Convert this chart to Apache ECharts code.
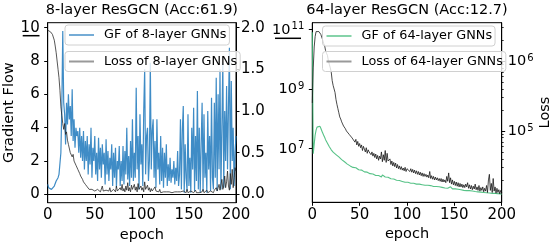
<!DOCTYPE html>
<html><head><meta charset="utf-8">
<script src="https://cdn.jsdelivr.net/npm/echarts@6/dist/echarts.min.js"></script>
<style>html,body{margin:0;padding:0;background:#fff}#c{width:557px;height:246px}</style>
</head><body><div id="c"></div>
<script>
// ---- data (epoch index = array index, 0..200) ----
const xTicks = [0, 50, 100, 150, 200];
const gfTicks8 = [0, 2, 4, 6, 8, 10];
const lossTicks8 = [0, 0.5, 1.0, 1.5, 2.0];
const gfExpTicks64 = [7, 9, 11];      // 10^7, 10^9, 10^11
const lossExpTicks64 = [5, 6];        // 10^5, 10^6

const gf8 = [
0.6,0.4,0.35,0.3,0.3,0.35,0.4,0.5,0.6,0.8,
0.9,1.0,1.2,1.3,2.5,5.2,9.8,5.5,4.8,3.0,
5.5,4.2,6.0,4.5,5.3,3.5,6.3,3.2,4.5,2.8,
4.0,3.5,3.8,2.5,4.0,2.2,3.5,2.0,3.8,1.5,
3.2,2.0,3.5,1.2,3.0,1.8,4.0,1.0,2.8,2.0,
3.5,1.2,2.5,0.8,3.4,1.5,2.8,1.0,3.0,1.8,
2.5,0.6,3.3,1.2,2.6,0.8,2.2,1.5,3.0,0.5,
2.5,1.0,2.8,0.4,2.0,1.5,2.9,0.5,2.0,0.8,
2.9,0.6,2.6,1.2,4.0,0.9,2.3,0.5,3.2,1.0,
4.5,0.8,2.5,1.0,6.4,1.5,3.5,0.3,4.8,1.8,
3.0,0.5,5.0,7.5,1.2,3.5,4.0,0.8,2.0,7.9,
1.5,3.8,4.5,1.0,3.2,0.4,4.5,1.5,2.5,0.6,
3.5,0.8,2.8,0.4,2.5,1.0,3.0,0.5,1.8,0.8,
2.2,0.7,1.5,1.0,2.0,0.6,1.6,0.8,2.6,0.5,
1.2,4.5,0.3,3.8,5.3,0.1,3.0,1.0,0.2,4.8,
0.5,2.2,0.1,4.0,1.5,5.2,0.2,3.5,0.8,6.2,
0.3,4.0,0.1,3.0,5.5,0.2,4.8,1.0,2.5,0.1,
5.0,1.5,3.5,0.2,5.8,1.0,0.3,5.5,1.0,7.0,
0.2,6.0,1.5,7.5,0.3,4.0,7.9,0.4,5.0,2.0,
6.5,1.5,5.2,8.8,0.3,6.8,2.0,4.0,0.5,2.5,
3.5];

const loss8 = [
1.97,1.97,1.96,1.95,1.93,1.92,1.9,1.85,1.78,1.7,
1.6,1.5,1.4,1.25,1.05,0.95,0.85,0.78,0.85,0.72,
0.75,0.65,0.6,0.62,0.5,0.52,0.45,0.48,0.4,0.42,
0.35,0.33,0.3,0.3,0.25,0.22,0.2,0.18,0.15,0.14,
0.12,0.1,0.09,0.08,0.06,0.07,0.05,0.06,0.04,0.05,
0.04,0.05,0.03,0.06,0.04,0.08,0.03,0.05,0.1,0.04,
0.06,0.03,0.05,0.07,0.03,0.04,0.08,0.03,0.05,0.02,
0.06,0.04,0.03,0.1,0.04,0.06,0.02,0.08,0.05,0.12,
0.04,0.07,0.03,0.1,0.05,0.14,0.04,0.08,0.03,0.11,
0.06,0.04,0.12,0.05,0.09,0.03,0.13,0.06,0.04,0.1,
0.05,0.08,0.03,0.15,0.06,0.04,0.11,0.05,0.08,0.03,
0.07,0.04,0.06,0.03,0.09,0.04,0.02,0.05,0.03,0.06,
0.02,0.04,0.02,0.03,0.05,0.02,0.03,0.04,0.02,0.03,
0.02,0.03,0.02,0.04,0.02,0.03,0.02,0.02,0.03,0.02,
0.02,0.03,0.02,0.02,0.04,0.02,0.03,0.02,0.06,0.02,
0.03,0.02,0.04,0.02,0.03,0.02,0.02,0.05,0.02,0.03,
0.02,0.02,0.04,0.02,0.03,0.06,0.02,0.03,0.02,0.05,
0.02,0.03,0.02,0.04,0.06,0.03,0.02,0.05,0.03,0.08,
0.04,0.03,0.12,0.05,0.04,0.18,0.06,0.1,0.22,0.08,
0.15,0.28,0.1,0.05,0.25,0.12,0.3,0.08,0.2,0.32,
0.28];

// log10 of gradient flow, 64-layer
const gf64Exp = [
10.9,6.83,7.15,7.45,7.62,7.72,7.77,7.78,7.75,7.68,
7.6,7.52,7.45,7.38,7.3,7.25,7.18,7.12,7.06,7.0,
6.96,6.92,6.88,6.86,6.83,6.8,6.78,6.74,6.72,6.68,
6.66,6.63,6.62,6.58,6.56,6.53,6.52,6.48,6.47,6.44,
6.42,6.4,6.41,6.37,6.38,6.34,6.36,6.31,6.33,6.29,
6.3,6.27,6.28,6.24,6.26,6.22,6.24,6.2,6.21,6.18,
6.17,6.16,6.17,6.13,6.15,6.12,6.14,6.1,6.11,6.08,
6.1,6.06,6.08,6.05,6.12,6.07,6.14,6.05,6.1,6.03,
6.04,6.01,6.02,5.99,6.0,5.97,5.98,5.95,5.96,5.94,
5.95,5.92,5.93,5.91,5.92,5.9,5.89,5.9,5.87,5.88,
5.86,5.87,5.85,5.86,5.84,5.85,5.83,5.84,5.82,5.83,
5.81,5.82,5.8,5.81,5.79,5.8,5.79,5.78,5.79,5.77,
5.78,5.76,5.77,5.82,5.75,5.76,5.74,5.75,5.73,5.74,
5.72,5.73,5.72,5.71,5.72,5.7,5.71,5.7,5.69,5.7,
5.68,5.69,5.68,5.67,5.68,5.66,5.72,5.67,5.65,5.66,
5.64,5.65,5.64,5.63,5.64,5.62,5.63,5.62,5.61,5.62,
5.6,5.61,5.6,5.59,5.6,5.58,5.59,5.58,5.57,5.58,
5.56,5.57,5.56,5.55,5.56,5.55,5.54,5.55,5.54,5.53,
5.54,5.53,5.52,5.53,5.52,5.51,5.52,5.51,5.5,5.53,
5.5,5.51,5.49,5.5,5.49,5.48,5.49,5.48,5.47,5.48,
5.47];

// log10 of loss, 64-layer
const loss64Exp = [
5.4,5.9,6.2,6.35,6.42,6.44,6.44,6.42,6.4,6.38,
6.37,6.3,6.25,6.22,6.15,6.11,6.08,6.0,5.95,5.9,
5.84,5.72,5.65,5.6,5.55,5.45,5.38,5.32,5.26,5.2,
5.17,5.13,5.1,5.07,5.05,5.03,5.0,4.98,4.99,4.95,
4.97,4.93,4.9,4.88,4.92,4.84,4.88,4.8,4.85,4.78,
4.82,4.76,4.8,4.72,4.78,4.74,4.7,4.76,4.68,4.73,
4.7,4.72,4.66,4.7,4.64,4.68,4.62,4.67,4.6,4.65,
4.58,4.64,4.6,4.7,4.56,4.66,4.58,4.72,4.55,4.68,
4.57,4.55,4.6,4.52,4.57,4.5,4.55,4.49,4.54,4.47,
4.52,4.46,4.5,4.45,4.49,4.44,4.47,4.43,4.48,4.42,
4.46,4.44,4.48,4.42,4.46,4.41,4.45,4.4,4.44,4.39,
4.43,4.38,4.42,4.37,4.41,4.36,4.4,4.35,4.39,4.35,
4.38,4.34,4.37,4.33,4.42,4.32,4.36,4.31,4.35,4.3,
4.34,4.3,4.33,4.29,4.32,4.28,4.32,4.27,4.31,4.27,
4.3,4.26,4.35,4.28,4.4,4.26,4.33,4.24,4.3,4.23,
4.28,4.22,4.27,4.21,4.26,4.2,4.25,4.2,4.24,4.19,
4.23,4.19,4.24,4.2,4.26,4.18,4.23,4.17,4.22,4.16,
4.21,4.17,4.24,4.16,4.2,4.15,4.22,4.14,4.19,4.15,
4.2,4.13,4.18,4.14,4.22,4.12,4.3,4.38,4.15,4.25,
4.12,4.32,4.14,4.2,4.11,4.18,4.12,4.16,4.1,4.15,
4.12];

const names = ['GF of 8-layer GNNs','Loss of 8-layer GNNs','GF of 64-layer GNNs','Loss of 64-layer GNNs'];

// ---- chart ----
const FONT = 'DejaVu Sans';
const chart = echarts.init(document.getElementById('c'), null, {renderer: 'canvas'});
const pairs = a => a.map((v, i) => [i, v]);

// minor log ticks for right log axis
const minorLoss = [];
for (let d = 4; d <= 6; d++) for (let k = 2; k <= 9; k++) {
  const e = d + Math.log10(k);
  if (e > 3.98 && e < 6.547) minorLoss.push(e);
}

const baseX = (gi) => ({
  type: 'value', gridIndex: gi, min: 0, max: 200, interval: 50,
  name: 'epoch', nameLocation: 'middle', nameGap: 18,
  nameTextStyle: {fontFamily: FONT, fontSize: 14.5, color: '#000'},
  axisLine: {show: true, lineStyle: {color: '#000', width: 1}},
  axisTick: {show: true, inside: false, length: 3.5, lineStyle: {color: '#000', width: 1}},
  axisLabel: {fontFamily: FONT, fontSize: 15, color: '#000', margin: 5},
  splitLine: {show: false}
});
const axCommon = {
  axisLine: {show: true, lineStyle: {color: '#000', width: 1}},
  splitLine: {show: false}
};
const sup = v => '{b|10}{s|' + v + '}';
const supRich = {
  b: {fontFamily: FONT, fontSize: 14.5, color: '#000', verticalAlign: 'bottom'},
  s: {fontFamily: FONT, fontSize: 10, color: '#000', verticalAlign: 'top', padding: [0, 0, 6, 1]}
};

const legendBase = {
  orient: 'vertical', padding: [3, 3, 3, 4], itemWidth: 25, itemHeight: 1.3,
  icon: 'rect',
  backgroundColor: 'rgba(255,255,255,0.8)', borderColor: '#d0d0d0', borderWidth: 1, borderRadius: 3,
  textStyle: {fontFamily: FONT, fontSize: 12.8, color: '#000', padding: [0, 0, 0, 5], lineHeight: 14},
  selectedMode: false
};

chart.setOption({
  animation: false,
  backgroundColor: '#fff',
  title: [
    {text: '8-layer ResGCN (Acc:61.9)', left: 141.9, top: 3, textAlign: 'center', padding: 0,
     textStyle: {fontFamily: FONT, fontSize: 14.5, fontWeight: 'normal', color: '#000'}},
    {text: '64-layer ResGCN (Acc:12.7)', left: 407, top: 3, textAlign: 'center', padding: 0,
     textStyle: {fontFamily: FONT, fontSize: 14.5, fontWeight: 'normal', color: '#000'}}
  ],
  grid: [
    {left: 47.7, top: 22.7, width: 188.3, height: 180, show: true, borderColor: '#000', borderWidth: 1, containLabel: false, outerBoundsMode: 'none'},
    {left: 312.3, top: 22.7, width: 189.4, height: 179.6, show: true, borderColor: '#000', borderWidth: 1, containLabel: false, outerBoundsMode: 'none'}
  ],
  xAxis: [baseX(0), baseX(1)],
  yAxis: [
    Object.assign({}, axCommon, {
      type: 'value', gridIndex: 0, position: 'left', min: -0.5, max: 10.3,
      name: 'Gradient Flow', nameLocation: 'middle', nameGap: 21, nameRotate: 90,
      nameTextStyle: {fontFamily: FONT, fontSize: 14.5, color: '#000'},
      axisTick: {show: true, length: 3.5, customValues: gfTicks8, lineStyle: {color: '#000'}},
      axisLabel: {customValues: gfTicks8, fontFamily: FONT, fontSize: 15, color: '#000', margin: 8}
    }),
    Object.assign({}, axCommon, {
      type: 'value', gridIndex: 0, position: 'right', min: -0.1, max: 2.06,
      axisTick: {show: true, length: 3.5, customValues: lossTicks8, lineStyle: {color: '#000'}},
      axisLabel: {customValues: lossTicks8, fontFamily: FONT, fontSize: 15, color: '#000', margin: 5,
        formatter: v => v.toFixed(1)}
    }),
    Object.assign({}, axCommon, {
      type: 'value', gridIndex: 1, position: 'left', min: 5.2, max: 11.22,
      axisTick: {show: true, length: 3.5, customValues: gfExpTicks64, lineStyle: {color: '#000'}},
      axisLabel: {customValues: gfExpTicks64, margin: 8, formatter: v => sup(v), rich: supRich}
    }),
    Object.assign({}, axCommon, {
      type: 'value', gridIndex: 1, position: 'right', min: 3.98, max: 6.547,
      name: 'Loss', nameLocation: 'middle', nameGap: 27, nameRotate: 90,
      nameTextStyle: {fontFamily: FONT, fontSize: 14.5, color: '#000'},
      axisTick: {show: true, length: 3.5, customValues: lossExpTicks64, lineStyle: {color: '#000'}},
      axisLabel: {customValues: lossExpTicks64, margin: 6, formatter: v => sup(v), rich: supRich}
    }),
    {
      type: 'value', gridIndex: 1, position: 'right', min: 3.98, max: 6.547,
      axisLine: {show: false}, splitLine: {show: false}, axisLabel: {show: false},
      axisTick: {show: true, length: 2, customValues: minorLoss, lineStyle: {color: '#000', width: 0.8}}
    }
  ],
  legend: [
    Object.assign({}, legendBase, {data: [names[0]], left: 65, top: 25}),
    Object.assign({}, legendBase, {data: [names[1]], left: 65, top: 51.5, itemHeight: 2, itemStyle: {color: '#999'}}),
    Object.assign({}, legendBase, {data: [names[2]], left: 322.5, top: 26}),
    Object.assign({}, legendBase, {data: [names[3]], left: 322.5, top: 51.5, itemHeight: 2, itemStyle: {color: '#999'}})
  ],
  graphic: [
    {type: 'line', shape: {x1: 22.7, y1: 35.7, x2: 39.5, y2: 35.7}, style: {stroke: '#000', lineWidth: 1.5}},
    {type: 'line', shape: {x1: 275, y1: 38.3, x2: 301, y2: 38.3}, style: {stroke: '#000', lineWidth: 1.5}}
  ],
  series: [
    {name: names[0], type: 'line', xAxisIndex: 0, yAxisIndex: 0, data: pairs(gf8), symbol: 'none',
     lineStyle: {color: '#2a7fc0', width: 1.2, opacity: 0.9}, itemStyle: {color: '#2a7fc0'}},
    {name: names[1], type: 'line', xAxisIndex: 0, yAxisIndex: 1, data: pairs(loss8), symbol: 'none',
     lineStyle: {color: '#222', width: 0.9, opacity: 0.85}, itemStyle: {color: '#222'}},
    {name: names[2], type: 'line', xAxisIndex: 1, yAxisIndex: 2, data: pairs(gf64Exp), symbol: 'none',
     lineStyle: {color: '#45bb7a', width: 1.1, opacity: 0.9}, itemStyle: {color: '#45bb7a'}},
    {name: names[3], type: 'line', xAxisIndex: 1, yAxisIndex: 3, data: pairs(loss64Exp), symbol: 'none',
     lineStyle: {color: '#111', width: 0.9, opacity: 0.85}, itemStyle: {color: '#111'}}
  ]
});
</script></body></html>
